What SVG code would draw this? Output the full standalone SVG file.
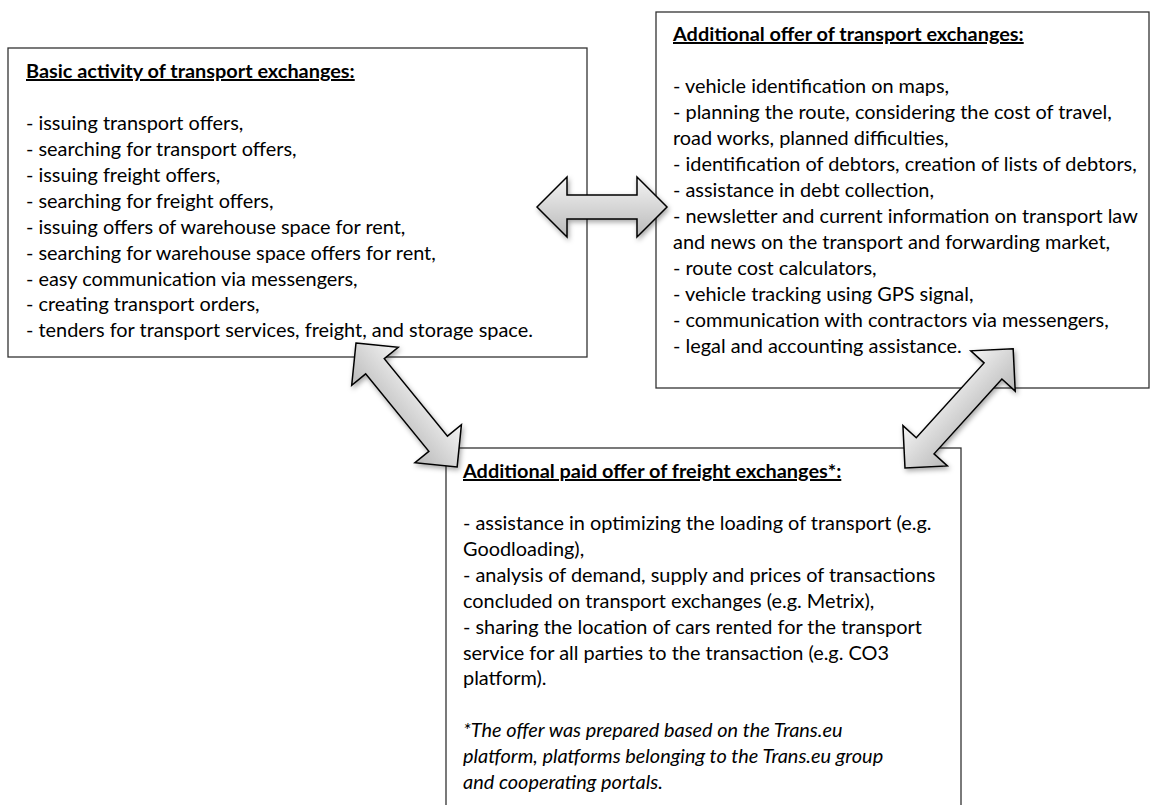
<svg xmlns="http://www.w3.org/2000/svg" width="1154" height="805" viewBox="0 0 1154 805">
<style>
.box{fill:#ffffff;stroke:#333333;stroke-width:1.3}
.t{font-family:Lato,"Liberation Sans",sans-serif;font-size:19.9px;fill:#000000}
.h{font-weight:bold;text-decoration:underline}
.i{font-style:italic}
.arr{fill:url(#ag);stroke:#000000;stroke-width:1.5;stroke-linejoin:miter}
</style>
<defs>
<linearGradient id="ag" x1="0" y1="0" x2="0" y2="1">
<stop offset="0" stop-color="#f4f4f4"/>
<stop offset="1" stop-color="#b9b9b9"/>
</linearGradient>
<filter id="sh" x="-20%" y="-20%" width="140%" height="140%">
<feDropShadow dx="1.5" dy="2.5" stdDeviation="2.5" flood-color="#000000" flood-opacity="0.35"/>
</filter>
</defs>
<g id="basic">
<rect class="box" x="8" y="48" width="579" height="309"/>
<text class="t"><tspan class="h" x="26" y="78">Basic activity of transport exchanges:</tspan>
<tspan x="26" y="130">- issuing transport offers,</tspan>
<tspan x="26" y="156">- searching for transport offers,</tspan>
<tspan x="26" y="182">- issuing freight offers,</tspan>
<tspan x="26" y="208">- searching for freight offers,</tspan>
<tspan x="26" y="234">- issuing offers of warehouse space for rent,</tspan>
<tspan x="26" y="260">- searching for warehouse space offers for rent,</tspan>
<tspan x="26" y="286">- easy communication via messengers,</tspan>
<tspan x="26" y="311">- creating transport orders,</tspan>
<tspan x="26" y="337">- tenders for transport services, freight, and storage space.</tspan></text>
</g>
<g id="additional">
<rect class="box" x="656" y="12" width="493" height="376"/>
<text class="t"><tspan class="h" x="673" y="41">Additional offer of transport exchanges:</tspan>
<tspan x="673" y="93">- vehicle identification on maps,</tspan>
<tspan x="673" y="119">- planning the route, considering the cost of travel,</tspan>
<tspan x="673" y="145">road works, planned difficulties,</tspan>
<tspan x="673" y="171">- identification of debtors, creation of lists of debtors,</tspan>
<tspan x="673" y="197">- assistance in debt collection,</tspan>
<tspan x="673" y="223">- newsletter and current information on transport law</tspan>
<tspan x="673" y="249">and news on the transport and forwarding market,</tspan>
<tspan x="673" y="275">- route cost calculators,</tspan>
<tspan x="673" y="301">- vehicle tracking using GPS signal,</tspan>
<tspan x="673" y="327">- communication with contractors via messengers,</tspan>
<tspan x="673" y="353">- legal and accounting assistance.</tspan></text>
</g>
<g id="paid">
<rect class="box" x="446" y="448" width="515" height="380"/>
<text class="t"><tspan class="h" x="463" y="478">Additional paid offer of freight exchanges*:</tspan>
<tspan x="463" y="530">- assistance in optimizing the loading of transport (e.g.</tspan>
<tspan x="463" y="556">Goodloading),</tspan>
<tspan x="463" y="582">- analysis of demand, supply and prices of transactions</tspan>
<tspan x="463" y="608">concluded on transport exchanges (e.g. Metrix),</tspan>
<tspan x="463" y="634">- sharing the location of cars rented for the transport</tspan>
<tspan x="463" y="660">service for all parties to the transaction (e.g. CO3</tspan>
<tspan x="463" y="685">platform).</tspan>
<tspan class="i" x="463" y="737">*The offer was prepared based on the Trans.eu</tspan>
<tspan class="i" x="463" y="763">platform, platforms belonging to the Trans.eu group</tspan>
<tspan class="i" x="463" y="789">and cooperating portals.</tspan></text>
</g>
<g id="connectors">
<g filter="url(#sh)"><path class="arr" transform="translate(537,207)" d="M0,0 L30,-30 L30,-12 L100,-12 L100,-30 L130,0 L100,30 L100,12 L30,12 L30,30 Z"/></g>
<g filter="url(#sh)"><path class="arr" transform="translate(356,343) rotate(50.8)" d="M0,0 L30,-30 L30,-12 L130,-12 L130,-30 L160,0 L130,30 L130,12 L30,12 L30,30 Z"/></g>
<g filter="url(#sh)"><path class="arr" transform="translate(905,468) rotate(-47.8)" d="M0,0 L30,-30 L30,-12 L131,-12 L131,-30 L161,0 L131,30 L131,12 L30,12 L30,30 Z"/></g>
</g>
</svg>
